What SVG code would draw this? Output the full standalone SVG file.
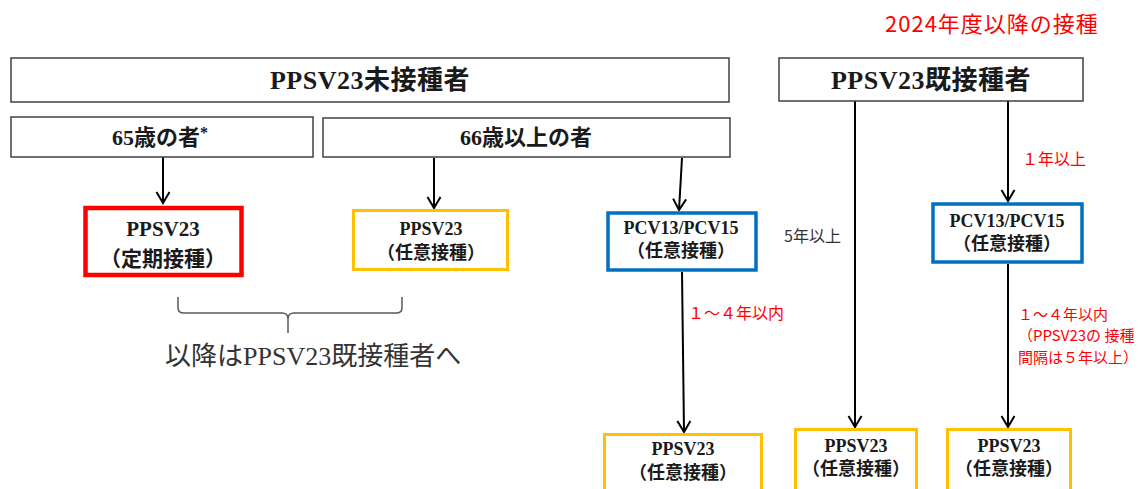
<svg xmlns="http://www.w3.org/2000/svg" width="1146" height="489" viewBox="0 0 1146 489">
<style>
.bx{fill:#fff;stroke:#404040;stroke-width:1.5}
.red{fill:#fff;stroke:#ff0000;stroke-width:4.5}
.org{fill:#fff;stroke:#ffc000;stroke-width:3}
.blu{fill:#fff;stroke:#0070c0;stroke-width:3.5}
.t{font-family:"Liberation Serif","Noto Sans CJK JP",serif;font-weight:bold;fill:#1a1a1a;text-anchor:middle}
.big{font-size:26px;letter-spacing:0.5px}
.mid{font-size:22px}
.n{font-size:18px}
.rn{font-size:21px}
.lab{font-family:"Noto Sans CJK JP","Noto Sans",sans-serif;font-size:16px}
.sm{font-size:15px}
.rl{fill:#ff0000}
.con{stroke:#000;stroke-width:2;fill:none}
</style>
<defs>
<marker id="ah" viewBox="-13 -8 15 16" refX="0" refY="0" markerWidth="15" markerHeight="16" markerUnits="userSpaceOnUse" orient="auto">
<path d="M-11,-6.5 L0,0 L-11,6.5" fill="none" stroke="#000" stroke-width="2"/>
</marker>
</defs>

<text x="885" y="32" font-family="'Noto Sans CJK JP','Noto Sans',sans-serif" font-size="22" letter-spacing="1" fill="#ff0000">2024年度以降の接種</text>

<g id="connectors">
<line class="con" x1="163" y1="157" x2="163" y2="203" marker-end="url(#ah)"/>
<line class="con" x1="434" y1="158" x2="434" y2="208" marker-end="url(#ah)"/>
<line class="con" x1="682" y1="158" x2="679" y2="210" marker-end="url(#ah)"/>
<line class="con" x1="682" y1="272" x2="684" y2="432" marker-end="url(#ah)"/>
<line class="con" x1="855" y1="101" x2="855" y2="427" marker-end="url(#ah)"/>
<line class="con" x1="1008" y1="101" x2="1008" y2="201" marker-end="url(#ah)"/>
<line class="con" x1="1008" y1="264" x2="1008" y2="427" marker-end="url(#ah)"/>
</g>

<g id="unvaccinated">
<rect class="bx" x="11" y="58" width="718" height="44"/>
<text class="t big" x="370" y="89">PPSV23未接種者</text>
</g>
<g id="vaccinated">
<rect class="bx" x="779" y="58" width="304" height="43"/>
<text class="t big" x="931" y="89">PPSV23既接種者</text>
</g>
<g id="age65">
<rect class="bx" x="11" y="117" width="302" height="40"/>
<text class="t mid" x="160" y="145">65歳の者<tspan font-size="16" dy="-7">*</tspan></text>
</g>
<g id="age66">
<rect class="bx" x="323" y="118" width="407" height="39"/>
<text class="t mid" x="526" y="145">66歳以上の者</text>
</g>
<g id="ppsv23-routine">
<rect class="red" x="85.5" y="208" width="156" height="67"/>
<text class="t rn" x="163" y="236">PPSV23</text>
<text class="t rn" x="163" y="266">（定期接種）</text>
</g>
<g id="ppsv23-opt-a">
<rect class="org" x="353.5" y="210.5" width="154" height="59"/>
<text class="t n" x="431" y="235">PPSV23</text>
<text class="t n" x="431" y="259">（任意接種）</text>
</g>
<g id="pcv-a">
<rect class="blu" x="608" y="213" width="148" height="57"/>
<text class="t n" x="681" y="234">PCV13/PCV15</text>
<text class="t n" x="681" y="257">（任意接種）</text>
</g>
<g id="pcv-b">
<rect class="blu" x="933" y="204" width="149" height="58"/>
<text class="t n" x="1007" y="227">PCV13/PCV15</text>
<text class="t n" x="1007" y="250">（任意接種）</text>
</g>
<g id="ppsv23-opt-b">
<rect class="org" x="604.5" y="434.5" width="157" height="70"/>
<text class="t n" x="683" y="455">PPSV23</text>
<text class="t n" x="683" y="479">（任意接種）</text>
</g>
<g id="ppsv23-opt-c">
<rect class="org" x="795.5" y="429.5" width="121" height="70"/>
<text class="t n" x="856" y="452">PPSV23</text>
<text class="t n" x="856" y="475">（任意接種）</text>
</g>
<g id="ppsv23-opt-d">
<rect class="org" x="947.5" y="429.5" width="123" height="70"/>
<text class="t n" x="1009" y="452">PPSV23</text>
<text class="t n" x="1009" y="475">（任意接種）</text>
</g>

<g id="labels">
<text class="lab rl" x="1022" y="165">１年以上</text>
<text class="lab" x="784" y="242" fill="#333">5年以上</text>
<text class="lab rl" x="688" y="319">１～４年以内</text>
<text class="lab sm rl" x="1018" y="320">１～４年以内</text>
<text class="lab sm rl" x="1018" y="341">（PPSV23の 接種</text>
<text class="lab sm rl" x="1018" y="363">間隔は５年以上）</text>
</g>

<g id="brace">
<path d="M178,297 L178,308 Q178,313 184,313 L282,313 Q288,313 288,319 L288,333 M288,319 Q288,313 294,313 L396,313 Q402,313 402,308 L402,297" fill="none" stroke="#595959" stroke-width="1.5"/>
<text x="165" y="365" font-family="'Liberation Serif','Noto Sans CJK JP',serif" font-size="26" fill="#333">以降はPPSV23既接種者へ</text>
</g>
</svg>
